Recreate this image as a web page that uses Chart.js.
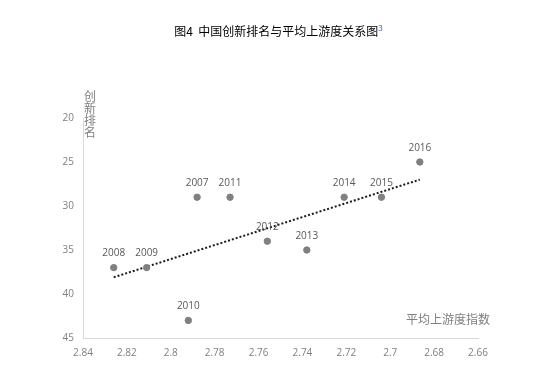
<!DOCTYPE html>
<html><head><meta charset="utf-8">
<script src="https://cdn.jsdelivr.net/npm/chart.js@4/dist/chart.umd.min.js"></script>
<style>
html,body{margin:0;padding:0;background:#fff;}
#wrap{position:relative;width:557px;height:380px;}
#c{position:absolute;left:0;top:0;}
#title{position:absolute;left:0;top:23px;width:557px;text-align:center;font-family:"Noto Sans CJK SC";font-size:12px;color:#000;line-height:16px;}
#title sup{color:#2e5fb0;font-size:8px;vertical-align:top;position:relative;top:-3px;}
</style></head>
<body><div id="wrap"><canvas id="c" width="557" height="380"></canvas>
<div id="title">图4&nbsp; 中国创新排名与平均上游度关系图<sup>3</sup></div></div>
<script>
const years = ['2007','2008','2009','2010','2011','2012','2013','2014','2015','2016'];
const upstream = [2.788, 2.826, 2.811, 2.792, 2.773, 2.756, 2.738, 2.721, 2.704, 2.6865];
const rank = [29, 37, 37, 43, 29, 34, 35, 29, 29, 25];
const trendX = [2.826, 2.6865];
const trendY = [38.1, 27.0];
const xTicks = [2.66, 2.68, 2.70, 2.72, 2.74, 2.76, 2.78, 2.80, 2.82, 2.84];
const yTicks = [20, 25, 30, 35, 40, 45];
const xTitle = '平均上游度指数';
const yTitle = ['创','新','排','名'];

const labelPlugin = {
  id: 'labels',
  afterDatasetsDraw(chart) {
    const ctx = chart.ctx;
    const meta = chart.getDatasetMeta(0);
    ctx.save();
    ctx.font = '10px "Open Sans"';
    ctx.fillStyle = '#595959';
    ctx.textAlign = 'center';
    ctx.textBaseline = 'middle';
    meta.data.forEach((pt, i) => ctx.fillText(years[i], pt.x, pt.y - 14));
    ctx.font = '12px "Noto Sans CJK SC"';
    ctx.fillStyle = '#7f7f7f';
    const ys = chart.scales.y, xs = chart.scales.x;
    yTitle.forEach((ch, i) => ctx.fillText(ch, xs.left + 7, ys.top - 22 + i * 12));
    ctx.textAlign = 'right';
    ctx.fillText(xTitle, xs.right + 12, ys.bottom - 19);
    ctx.restore();
  }
};

new Chart(document.getElementById('c'), {
  type: 'scatter',
  data: {
    datasets: [
      { data: upstream.map((x, i) => ({x, y: rank[i]})), backgroundColor: '#808080', borderColor: '#808080', pointRadius: 3.2, pointHoverRadius: 3.2 },
      { type: 'line', data: trendX.map((x, i) => ({x, y: trendY[i]})), borderColor: '#1a1a1a', borderWidth: 2, borderDash: [2, 2], pointRadius: 0, fill: false }
    ]
  },
  options: {
    responsive: false, animation: false,
    layout: { padding: { left: 0, top: 118, right: 79, bottom: 0 } },
    plugins: { legend: { display: false }, tooltip: { enabled: false } },
    scales: {
      x: {
        type: 'linear', reverse: true, min: 2.66, max: 2.84,
        afterBuildTicks: s => { s.ticks = xTicks.map(v => ({value: v})); },
        afterFit: s => { s.height = 42; },
        grid: { drawOnChartArea: false, drawTicks: false, color: '#d9d9d9' },
        border: { color: '#d9d9d9', width: 1 },
        ticks: { padding: 9, color: '#7f7f7f', font: { family: 'Open Sans', size: 10 }, callback: v => String(+v.toFixed(2)), maxRotation: 0, autoSkip: false }
      },
      y: {
        type: 'linear', reverse: true, min: 20, max: 45,
        afterBuildTicks: s => { s.ticks = yTicks.map(v => ({value: v})); },
        afterFit: s => { s.width = 83; },
        grid: { drawOnChartArea: false, drawTicks: false, color: '#d9d9d9' },
        border: { color: '#d9d9d9', width: 1 },
        ticks: { padding: 9, color: '#7f7f7f', font: { family: 'Open Sans', size: 10 } }
      }
    }
  },
  plugins: [labelPlugin]
});
</script></body></html>
